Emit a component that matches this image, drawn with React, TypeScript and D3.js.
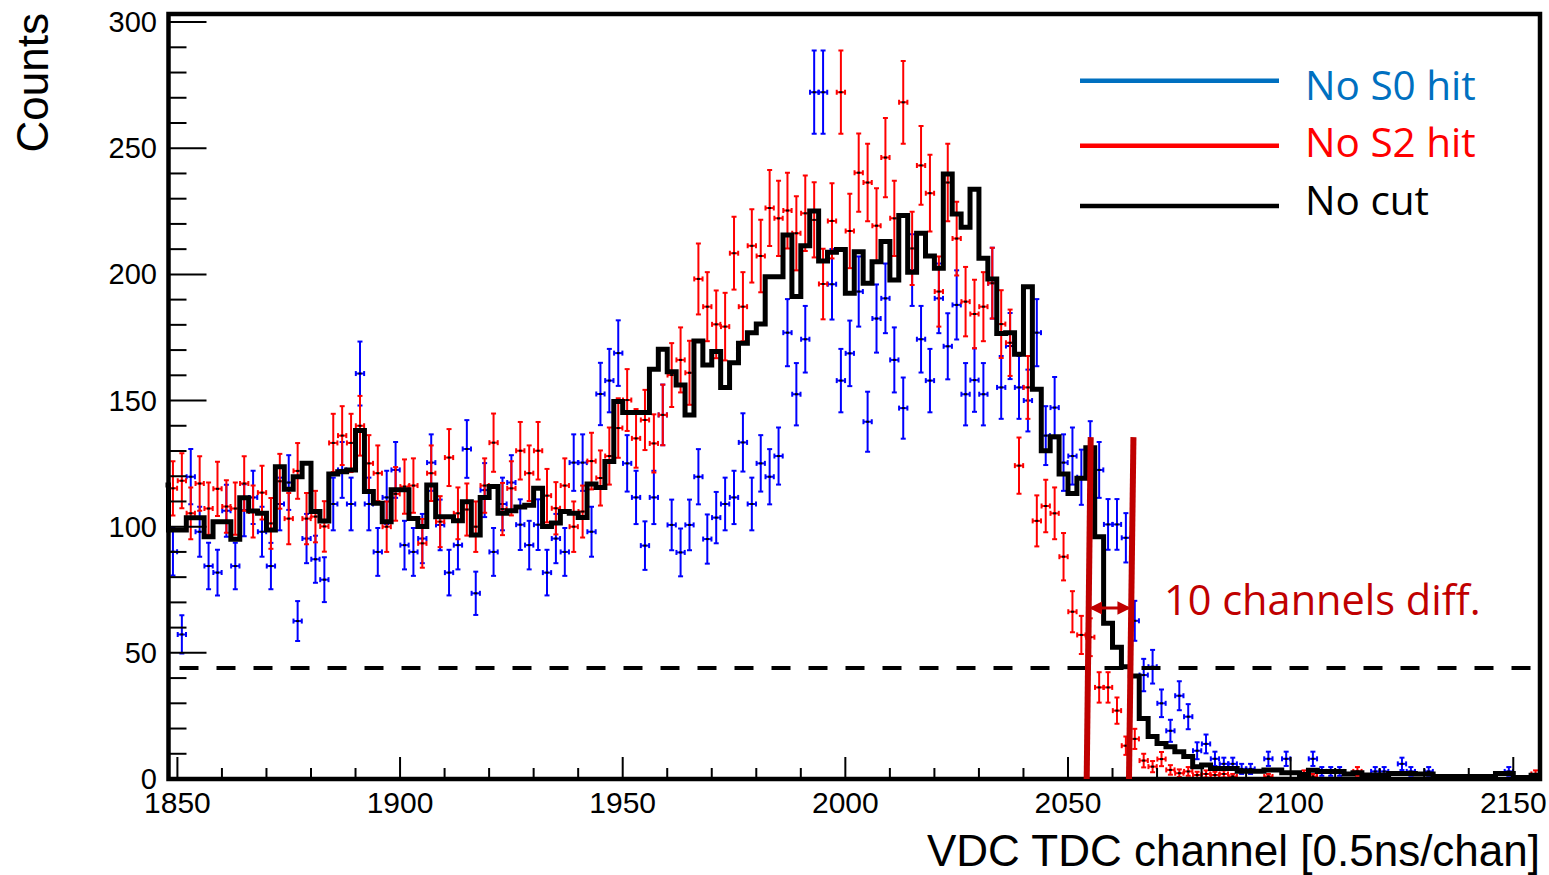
import React from "react";
import * as d3 from "d3";

// ---------- data ----------
const CHANNEL_MIN = 1848;
const CHANNEL_MAX = 2156;
const BIN_WIDTH = 2;
const COUNTS_MAX = 303.2;

// "No S0 hit" (blue points), bins of 2 channels starting at 1848
const noS0Hit: number[] = [
  90.1, 57.3, 119.8, 98, 84.4, 81.8, 106.3, 84.4, 106.5, 111.6,
  98, 84.4, 109, 117.5, 62.6, 95.3, 87.1, 79, 109, 122.5,
  109, 160.7, 109, 90, 111.6, 122.5, 92.7, 90, 95.3, 125.4,
  100.7, 81.8, 92.7, 130.8, 73.6, 114.5, 90, 109, 117.5, 100.8,
  92.7, 100.8, 81.8, 95.3, 90, 125.4, 125.4, 98, 152.6, 157.9,
  168.8, 125.1, 111.6, 92.5, 111.6, 144.3, 100.7, 89.8, 100.7, 119.8,
  95.1, 103.6, 109, 111.6, 133.4, 109, 125.1, 119.8, 128, 176.9,
  152.5, 174.3, 272.2, 272.2, 196.1, 157.9, 168.7, 193.2, 141.6, 182.5,
  190.5, 166.1, 147, 201.7, 174.3, 157.9, 190.5, 171.5, 187.9, 152.5,
  158.1, 152.5, 196.5, 155.2, 171.6, 155.2, 150, 176.9, 136.1, 147.2,
  125.4, 128, 119.6, 130.4, 122.5, 100.9, 100.9, 95.6, 62.7, 41.2,
  44.5, 30, 19.1, 33, 24.7, 11.2, 13.9, 8, 6, 6,
  4, 4, 0, 8, 0, 8, 0, 0, 8, 3,
  3, 3, 0, 0, 0, 3, 3, 0, 6, 3,
  0, 3, 0, 0, 0, 0, 0, 0, 0, 0,
  3, 0, 0, 0,
];

// "No S2 hit" (red points)
const noS2Hit: number[] = [
  115.2, 118.2, 105.3, 117.1, 107.2, 115, 108, 107.2, 117.1, 106,
  113.5, 101.3, 118, 103.2, 122.1, 103.2, 104, 100.1, 133.2, 136.1,
  133.2, 140, 125.1, 121.2, 100, 113, 115.9, 116.3, 93.4, 121.2,
  102, 127.4, 105.3, 106.8, 100, 116.3, 133.3, 107, 115.2, 130.1,
  121.2, 130.1, 112.3, 107.3, 116.3, 100, 106, 126, 119.3, 128,
  139.1, 150.2, 135, 142.3, 133, 144.3, 160.1, 166.1, 161, 198.2,
  187.2, 180.2, 179.3, 208.4, 187.2, 211.3, 207.3, 226.3, 222.2, 225.3,
  216.3, 224.2, 221.6, 196.2, 221.2, 272.2, 217.2, 240.3, 236.4, 219.3,
  246.3, 222.2, 268.2, 210.3, 243.2, 232.2, 193.2, 236.4, 214.2, 189.2,
  184.3, 187.2, 196.5, 180.3, 172.9, 124.2, 155.2, 102.3, 108.2, 105.3,
  88.1, 66.3, 57.1, 56.2, 36.3, 36.3, 27.1, 13.2, 15.9, 7.3,
  4.9, 7.9, 3.6, 2.3, 3, 1.6, 2, 1.6, 2, 1,
  0, 0, 0, 1, 0, 0, 0, 2, 1, 0,
  0, 0, 0, 3, 0, 0, 0, 0, 0, 0,
  0, 0, 0, 0, 0, 0, 0, 0, 0, 0,
  0, 0, 0, 2,
];

// "No cut" (black histogram)
const noCut: number[] = [
  98.7, 98.7, 103.5, 103.5, 96, 102, 102, 95, 111.5, 106.2,
  105.3, 98.7, 123.8, 114.8, 119.8, 125.1, 106, 102.3, 120.9, 121.8,
  122.5, 138.1, 113.9, 109.3, 102, 114.6, 114.6, 103.2, 100.1, 116.5,
  103.9, 103.9, 102.4, 109.9, 96.7, 111.6, 115.9, 105.3, 106.3, 107.8,
  108.5, 115.2, 100.1, 101.5, 106, 105.3, 103.6, 116.9, 115.5, 125.8,
  149.6, 145.3, 145.3, 145.3, 162.4, 170.3, 161.4, 156.2, 144.3, 173.6,
  164.1, 169.4, 155.2, 165, 172.7, 176.9, 180.3, 199.1, 199.1, 215.6,
  191.2, 211.3, 225.1, 205.3, 208.8, 209.9, 192.5, 209, 196.5, 205,
  213, 197.8, 223.3, 200.8, 216.3, 207.3, 202.4, 239.8, 223.9, 218.7,
  233.7, 206.4, 198.2, 176.6, 176.9, 168.3, 195.1, 154.5, 130.1, 135.6,
  120.9, 113.2, 119.2, 131.3, 96, 61.7, 52.2, 44.5, 40.8, 24,
  16.8, 14.1, 12.8, 10.8, 8.9, 4.9, 5.5, 4.2, 4.2, 4.2,
  3.1, 3.1, 3.1, 3.6, 3.6, 2.5, 2.5, 1.8, 3.5, 3,
  3, 3, 2, 2.5, 1.6, 1.6, 1.6, 2.2, 2.2, 2.2,
  2, 2, 1, 1, 1, 1, 1, 1, 1, 2.2,
  2.2, 0.6, 0.6, 1.5,
];
// bin [1846,1848] of the black histogram: only its right edge is visible
const noCutUnderflow = 116.5;

const yMajorTicks = [0, 50, 100, 150, 200, 250, 300];
const xMajorTicks = [1850, 1900, 1950, 2000, 2050, 2100, 2150];
const thresholdCounts = 44;
const cutLines = [
  { topCh: 2055.1, bottomCh: 2054.2 },
  { topCh: 2064.7, bottomCh: 2063.7 },
];
const cutLineTopCounts = 135.5;
const arrowCounts = 67.8;

const legendItems = [
  { label: "No S0 hit", color: "#0070C0" },
  { label: "No S2 hit", color: "#FF0000" },
  { label: "No cut", color: "#000000" },
];

// ---------- layout ----------
const W = 1549;
const H = 875;
const P = { left: 168.5, right: 1540, top: 14, bottom: 779 };
const AXIS_FONT = "'Liberation Sans', Arial, Helvetica, sans-serif";
const ANNOT_FONT = "'Open Sans', 'Noto Sans', sans-serif";
const DARK_RED = "#C00000";

const x = d3.scaleLinear().domain([CHANNEL_MIN, CHANNEL_MAX]).range([P.left, P.right]);
const y = d3.scaleLinear().domain([0, COUNTS_MAX]).range([P.bottom, P.top]);

function ErrorPoints({ data, color }: { data: number[]; color: string }) {
  return (
    <g stroke={color} strokeWidth={2} fill="none">
      {data.map((v, i) => {
        if (v <= 0) return null;
        const c = CHANNEL_MIN + BIN_WIDTH * (i + 0.5);
        const e = Math.sqrt(v);
        const cx = x(c);
        const cy = y(v);
        const yTop = y(v + e);
        const yBot = y(Math.max(0, v - e));
        const xl = x(c - BIN_WIDTH / 2) + 0.3;
        const xr = x(c + BIN_WIDTH / 2) - 0.3;
        return (
          <g key={i}>
            <line x1={cx} x2={cx} y1={yTop} y2={yBot} />
            <line x1={cx - 2.5} x2={cx + 2.5} y1={yTop} y2={yTop} />
            <line x1={cx - 2.5} x2={cx + 2.5} y1={yBot} y2={yBot} />
            <line x1={xl} x2={xr} y1={cy} y2={cy} />
            <line x1={xl} x2={xl} y1={cy - 2.5} y2={cy + 2.5} />
            <line x1={xr} x2={xr} y1={cy - 2.5} y2={cy + 2.5} />
            <rect x={cx - 1.5} y={cy - 1} width={3} height={2} fill="#000" stroke="none" />
          </g>
        );
      })}
    </g>
  );
}

export default function App() {
  // black histogram outline
  const pts: [number, number][] = [];
  const preStart = CHANNEL_MIN - BIN_WIDTH;
  pts.push([preStart, 0], [preStart, noCutUnderflow], [CHANNEL_MIN, noCutUnderflow]);
  noCut.forEach((v, i) => {
    const lo = CHANNEL_MIN + BIN_WIDTH * i;
    pts.push([lo, v], [lo + BIN_WIDTH, v]);
  });
  pts.push([CHANNEL_MIN + BIN_WIDTH * noCut.length, 0]);
  const histPath = d3
    .line<[number, number]>()
    .x((d) => x(d[0]))
    .y((d) => y(d[1]))(pts) as string;

  const yMinor = d3.range(0, 301, 10).filter((v) => v % 50 !== 0);
  const xMinor = d3.range(1850, 2151, 10).filter((v) => v % 50 !== 0);

  // arrow end points on the two slanted cut lines
  const lineXAt = (l: { topCh: number; bottomCh: number }, counts: number) => {
    const t = counts / cutLineTopCounts;
    return x(l.bottomCh + (l.topCh - l.bottomCh) * t);
  };
  const ay = y(arrowCounts);
  const ax1 = lineXAt(cutLines[0], arrowCounts) + 3;
  const ax2 = lineXAt(cutLines[1], arrowCounts) - 3;

  const legendY = [80.7, 145.7, 206];
  const legendTextY = [100, 157, 215];

  return (
    <svg width={W} height={H} style={{ display: "block", position: "absolute", left: 0, top: 0, background: "#fff" }}>
      <defs>
        <clipPath id="plotClip">
          <rect x={P.left - 3} y={P.top} width={P.right - P.left + 3} height={P.bottom - P.top} />
        </clipPath>
        <marker id="arrowHead" viewBox="0 0 10 10" refX="8" refY="5" markerWidth="4.5" markerHeight="4.5" orient="auto-start-reverse" markerUnits="strokeWidth">
          <path d="M0,0 L10,5 L0,10 z" fill={DARK_RED} />
        </marker>
      </defs>
      <rect x={0} y={0} width={W} height={H} fill="#fff" />

      <g clipPath="url(#plotClip)">
        <ErrorPoints data={noS0Hit} color="#0000FF" />
        <ErrorPoints data={noS2Hit} color="#FF0000" />
        <path d={histPath} fill="none" stroke="#000" strokeWidth={5} strokeLinejoin="miter" />
        <line
          x1={P.left}
          x2={P.right}
          y1={y(thresholdCounts)}
          y2={y(thresholdCounts)}
          stroke="#000"
          strokeWidth={4}
          strokeDasharray="19 18"
          strokeDashoffset={26}
        />
      </g>

      {/* axis ticks */}
      <g stroke="#000" strokeWidth={2}>
        {yMajorTicks.map((t) => (
          <line key={"ym" + t} x1={P.left} x2={P.left + 38} y1={y(t)} y2={y(t)} />
        ))}
        {yMinor.map((t) => (
          <line key={"yn" + t} x1={P.left} x2={P.left + 18} y1={y(t)} y2={y(t)} />
        ))}
        {xMajorTicks.map((t) => (
          <line key={"xm" + t} x1={x(t)} x2={x(t)} y1={P.bottom} y2={P.bottom - 22} />
        ))}
        {xMinor.map((t) => (
          <line key={"xn" + t} x1={x(t)} x2={x(t)} y1={P.bottom} y2={P.bottom - 11} />
        ))}
      </g>

      {/* frame */}
      <rect
        x={P.left}
        y={P.top}
        width={P.right - P.left}
        height={P.bottom - P.top}
        fill="none"
        stroke="#000"
        strokeWidth={4.5}
      />

      {/* tick labels */}
      <g fontFamily={AXIS_FONT} fill="#000">
        {yMajorTicks.map((t) => (
          <text key={"yl" + t} x={157} y={y(t) + 10} textAnchor="end" fontSize={29}>
            {t}
          </text>
        ))}
        {xMajorTicks.map((t) => (
          <text key={"xl" + t} x={x(t)} y={813} textAnchor="middle" fontSize={30}>
            {t}
          </text>
        ))}
      </g>

      {/* axis titles */}
      <text x={1540} y={866} textAnchor="end" fontFamily={AXIS_FONT} fontSize={44} fill="#000">
        VDC TDC channel [0.5ns/chan]
      </text>
      <text
        transform="translate(48,13) rotate(-90)"
        textAnchor="end"
        fontFamily={AXIS_FONT}
        fontSize={44}
        fill="#000"
      >
        Counts
      </text>

      {/* legend */}
      {legendItems.map((it, k) => (
        <g key={it.label}>
          <line x1={1080} x2={1279} y1={legendY[k]} y2={legendY[k]} stroke={it.color} strokeWidth={4.5} />
          <text x={1305} y={legendTextY[k]} fontFamily={ANNOT_FONT} fontSize={40.5} fill={it.color}>
            {it.label}
          </text>
        </g>
      ))}

      {/* cut annotation */}
      {cutLines.map((l, k) => (
        <line
          key={"cut" + k}
          x1={x(l.topCh)}
          y1={y(cutLineTopCounts)}
          x2={x(l.bottomCh)}
          y2={y(0)}
          stroke={DARK_RED}
          strokeWidth={6}
        />
      ))}
      <line
        x1={ax1}
        x2={ax2}
        y1={ay}
        y2={ay}
        stroke={DARK_RED}
        strokeWidth={3}
        markerStart="url(#arrowHead)"
        markerEnd="url(#arrowHead)"
      />
      <text x={1164} y={615} fontFamily={ANNOT_FONT} fontSize={41.5} fill={DARK_RED}>
        10 channels diff.
      </text>
    </svg>
  );
}
